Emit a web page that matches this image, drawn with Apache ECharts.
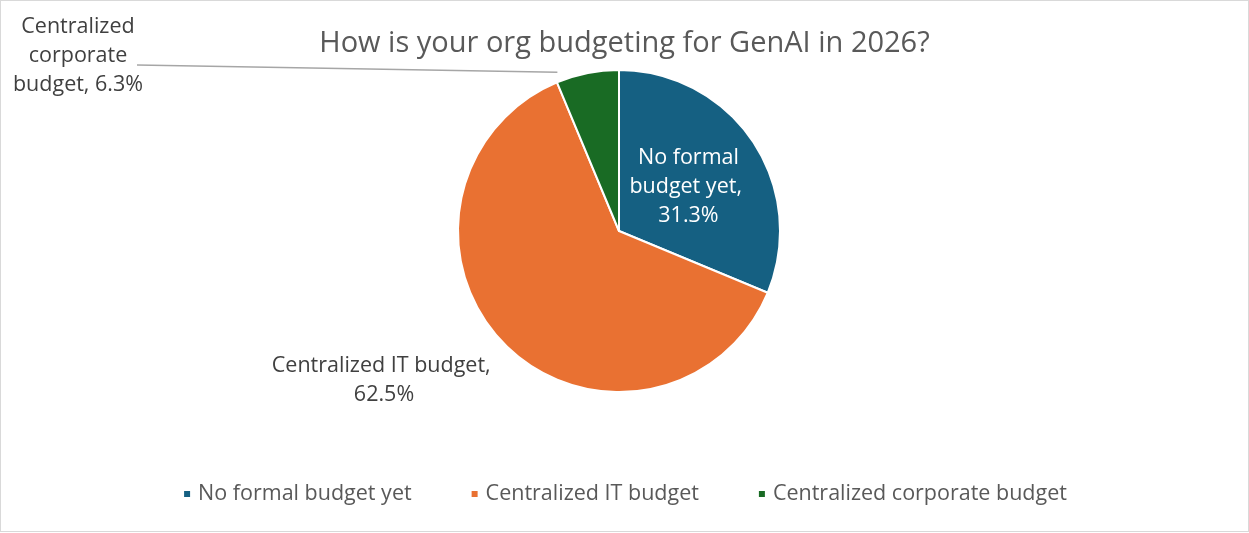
<!DOCTYPE html>
<html>
<head>
<meta charset="utf-8">
<script src="https://cdn.jsdelivr.net/npm/echarts@6/dist/echarts.min.js"></script>
<style>
  html, body { margin: 0; padding: 0; background: #fff; }
  #main { width: 1247px; height: 530px; border: 1px solid #d9d9d9; }
</style>
</head>
<body>
<div id="main"></div>
<script>
// 数据
var categories = ['No formal budget yet', 'Centralized IT budget', 'Centralized corporate budget'];
var shares = [31.3, 62.5, 6.3];
var colors = ['#156082', '#E97132', '#196B24'];
var labelNames = ['No formal\nbudget yet', 'Centralized IT budget', 'Centralized\ncorporate\nbudget'];

var chart = echarts.init(document.getElementById('main'));
var font = 'Open Sans';

var pieData = categories.map(function (name, i) {
    return { name: name, value: shares[i] };
});
// 第一块标签在扇区内，其余在外
pieData[0].label = { position: 'inside', color: '#fff' };
pieData[1].labelLine = { show: false };

var option = {
    color: colors,
    title: {
        text: 'How is your org budgeting for GenAI in 2026?',
        left: 'center',
        top: 23,
        textStyle: { fontFamily: font, fontSize: 29, fontWeight: 'normal', color: '#595959' }
    },
    legend: {
        data: categories,
        top: 477,
        left: 'center',
        itemWidth: 8,
        itemHeight: 8,
        itemGap: 58,
        icon: 'rect',
        textStyle: { fontFamily: font, fontSize: 21.5, color: '#595959', padding: [0, 0, 0, 2] }
    },
    series: [{
        type: 'pie',
        center: [618, 230],
        radius: 161,
        startAngle: 90,
        clockwise: true,
        silent: true,
        itemStyle: { borderColor: '#fff', borderWidth: 2 },
        label: {
            fontFamily: font,
            fontSize: 21.5,
            lineHeight: 29,
            color: '#404040',
            align: 'center',
            formatter: function (p) {
                return labelNames[p.dataIndex] + ', ' + (p.dataIndex < 2 ? '\n' : '') + p.value.toFixed(1) + '%';
            }
        },
        labelLine: { show: true, length: 10, length2: 10, lineStyle: { color: '#a6a6a6', width: 1.5 } },
        labelLayout: function (params) {
            if (params.dataIndex === 0) {
                return { dy: 2 };
            }
            if (params.dataIndex === 1) {
                return { x: 383, y: 379, align: 'center', verticalAlign: 'middle' };
            }
            if (params.dataIndex === 2) {
                var pts = params.labelLinePoints;
                var start = pts ? pts[0] : [587, 72];
                return {
                    x: 77, y: 55, align: 'center', verticalAlign: 'middle',
                    labelLinePoints: [[start[0] - 30, start[1] - 1], [136, 64], [136, 64]]
                };
            }
            return {};
        },
        data: pieData
    }]
};
chart.setOption(option);
</script>
</body>
</html>
